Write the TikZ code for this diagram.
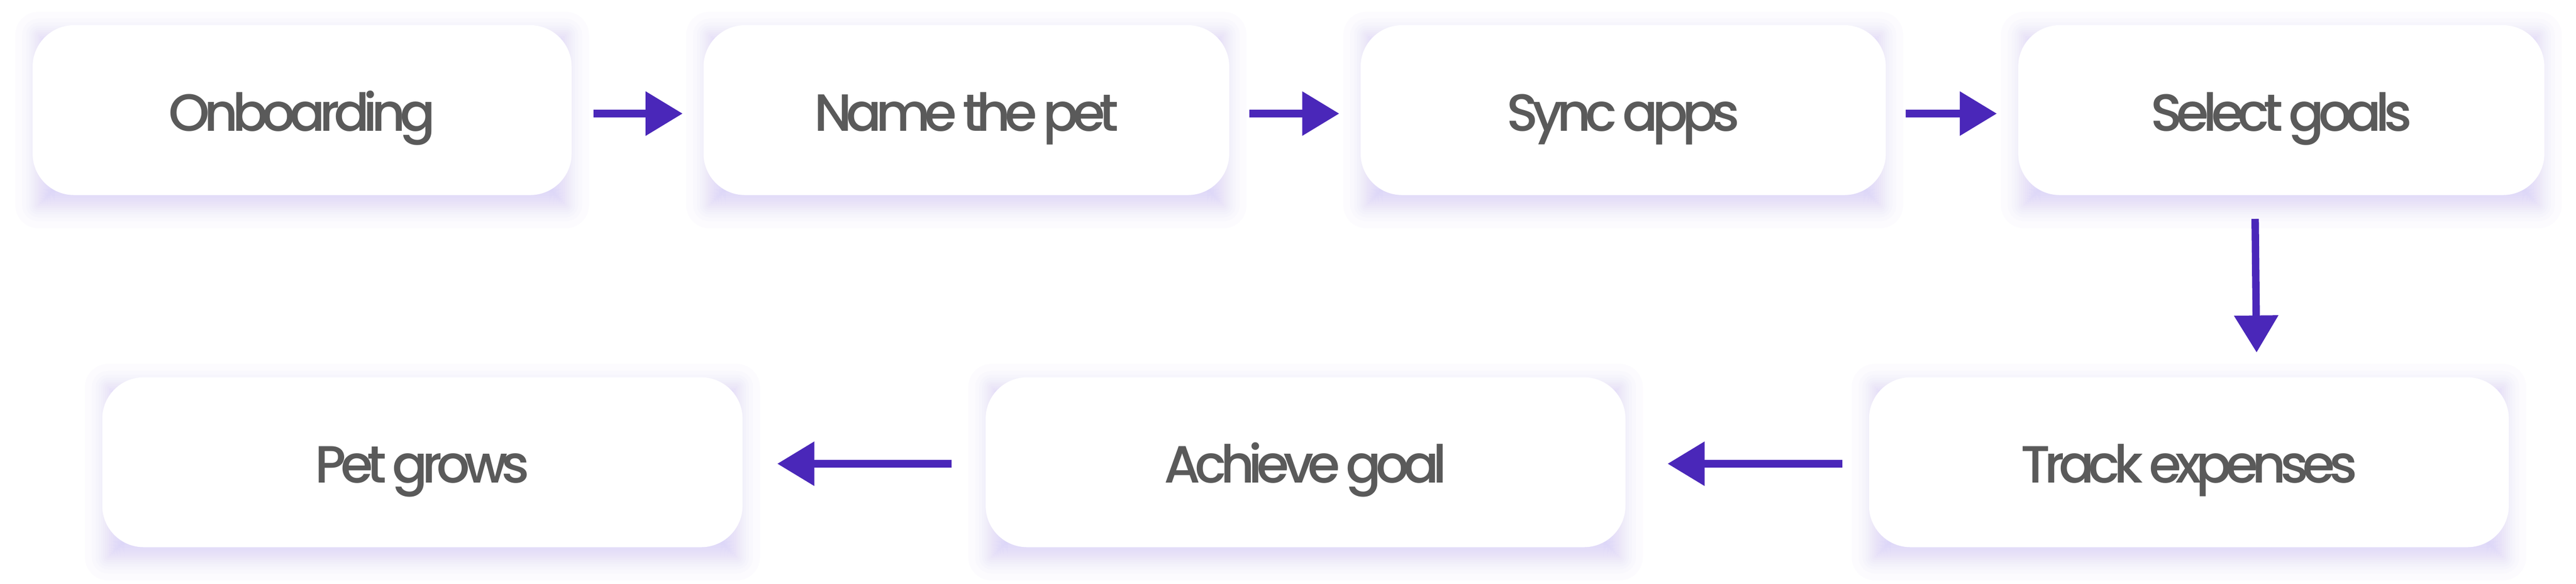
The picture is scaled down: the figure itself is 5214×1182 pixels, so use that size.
\documentclass[tikz,border=0pt]{standalone}
\usepackage{fontspec}
\setmainfont{Poppins}[UprightFont=* Medium]
\newfontfamily\cardfont{Poppins}[UprightFont=* Medium, LetterSpace=-11, WordSpace=0.75]
\usepackage{xcolor}
\usetikzlibrary{positioning,arrows.meta}

\definecolor{stepgray}{HTML}{5A5A5A}
\definecolor{flowpurple}{HTML}{4A27B9}
\definecolor{glow}{HTML}{C1B1F8}

\pgfdeclarelayer{background}
\pgfsetlayers{background,main}

\tikzset{
  card/.style={rounded corners=84pt, fill=white, text=stepgray, inner sep=0pt,
    minimum height=344pt, text height=84pt, text depth=0pt,
    font=\cardfont\fontsize{106}{120}\selectfont},
  flow/.style={draw=flowpurple, line width=15pt, -{Triangle[length=75pt, width=86pt]}}
}

\begin{document}
\begin{tikzpicture}[x=1pt, y=-1pt]
\useasboundingbox (0,0) rectangle (5214,1182);

\node[card, minimum width=1091pt] (onboard) at (611.5,223) {Onboarding};
\node[card, minimum width=1064pt] (namepet) at (1956,223) {Name the pet};
\node[card, minimum width=1063pt] (syncapps) at (3285.5,223) {Sync apps};
\node[card, minimum width=1065pt] (selgoals) at (4617.5,223) {Select goals};

\node[card, minimum width=1296pt] (petgrows) at (855,936) {Pet grows};
\node[card, minimum width=1295pt] (achieve) at (2642.5,936) {Achieve goal};
\node[card, minimum width=1295pt] (trackexp) at (4430.5,936) {Track expenses};

% soft glow under the cards
\begin{pgfonlayer}{background}
\fill[white] (0,0) rectangle (5214,1182);
\foreach \n in {onboard,namepet,syncapps,selgoals,petgrows,achieve,trackexp}
  \foreach \e [evaluate=\e as \rr using 72+\e] in {-33,-25,-19,-14,-10,-6,-2,2,6,10,14,19,25,33,47}
    \fill[glow, fill opacity=0.04, rounded corners=\rr pt]
      ([shift={(12-\e,20-\e)}]\n.north west) rectangle ([shift={(\e-12,20+\e)}]\n.south east);
\end{pgfonlayer}

\draw[flow, shorten <=44pt, shorten >=42pt] ([yshift=-7pt]onboard.east) -- ([yshift=-7pt]namepet.west);
\draw[flow, shorten <=41pt, shorten >=43pt] ([yshift=-7pt]namepet.east) -- ([yshift=-7pt]syncapps.west);
\draw[flow, shorten <=40pt, shorten >=43pt] ([yshift=-7pt]syncapps.east) -- ([yshift=-7pt]selgoals.west);
\draw[flow, shorten <=48pt, shorten >=50pt] ([xshift=-53.5pt]selgoals.south) -- ([xshift=137.5pt]trackexp.north);
\draw[flow, shorten <=54pt, shorten >=85pt] ([yshift=-3pt]trackexp.west) -- ([yshift=-3pt]achieve.east);
\draw[flow, shorten <=69pt, shorten >=70pt] ([yshift=-3pt]achieve.west) -- ([yshift=-3pt]petgrows.east);

\end{tikzpicture}
\end{document}
